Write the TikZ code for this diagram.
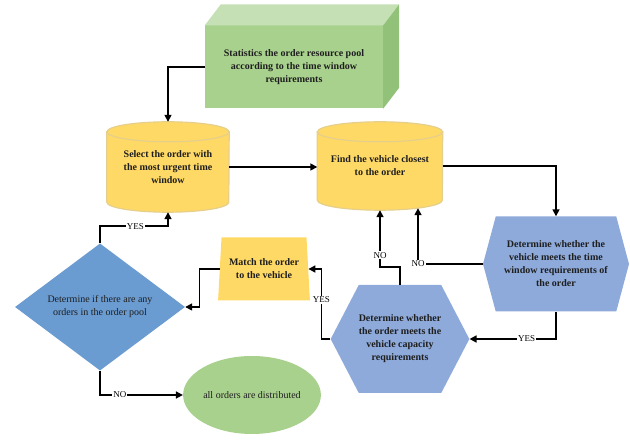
\documentclass[tikz,border=0pt]{standalone}
\usepackage{fontspec}
\setmainfont{Liberation Serif}
\usetikzlibrary{shapes.geometric,shapes.symbols,arrows.meta,backgrounds}

\definecolor{boxgreen}{HTML}{A9D18E}
\definecolor{topgreen}{HTML}{C5E0B4}
\definecolor{sidegreen}{HTML}{92C27A}
\definecolor{dbyellow}{HTML}{FFD966}
\definecolor{dbedge}{HTML}{E6CF8A}
\definecolor{hexblue}{HTML}{8EAADB}
\definecolor{diablue}{HTML}{6A9BD1}
\definecolor{inktxt}{HTML}{1E1E1E}

\tikzset{
  boldtxt/.style={font=\fontsize{10}{13}\selectfont\bfseries, align=center, text=inktxt},
  plaintxt/.style={font=\fontsize{10}{13}\selectfont, align=center, text=inktxt},
  cuboid/.style={boldtxt, fill=boxgreen, minimum width=178, minimum height=83, inner sep=0},
  database/.style={boldtxt, inner sep=0},
  dbdraw/.style={fill=dbyellow, draw=dbedge, line width=1.2pt},
  decide/.style={boldtxt, signal, signal to=west and east, fill=hexblue, inner sep=0},
  matchbox/.style={boldtxt, trapezium, trapezium stretches=true, trapezium left angle=82,
    trapezium right angle=82, fill=dbyellow, minimum width=92, minimum height=63, inner sep=0},
  query/.style={plaintxt, diamond, fill=diablue, minimum width=170, minimum height=110, inner sep=0},
  finish/.style={plaintxt, ellipse, fill=boxgreen, minimum width=137, minimum height=78, inner sep=0},
  flow/.style={->, line width=1.6pt},
  lbl/.style={font=\fontsize{9}{10}\selectfont, fill=white, inner sep=1pt}
}

\begin{document}
\begin{tikzpicture}[x=1pt,y=-1pt,>={Triangle[length=7pt,width=7pt]}]
  \useasboundingbox (0,0) rectangle (630,443);

  % order pool box
  \node[cuboid] (stat) at (294,67) {Statistics the order resource pool\\according to the time window\\requirements};
  \fill[topgreen] (stat.north west) -- ++(16,-21) -- ([shift={(16,-21)}]stat.north east) -- (stat.north east) -- cycle;
  \fill[sidegreen] (stat.north east) -- ++(16,-21) -- ([shift={(16,-21)}]stat.south east) -- (stat.south east) -- cycle;

  % cylinders: node is the body between the two end ellipses
  \node[database, minimum width=122, minimum height=70] (sel) at (168,167) {Select the order with\\the most urgent time\\window};
  \node[database, minimum width=125, minimum height=68] (find) at (380,166) {Find the vehicle closest\\to the order};
  \begin{scope}[on background layer]
    \filldraw[dbdraw] (sel.north west) -- (sel.south west) arc[start angle=180, end angle=0, x radius=61, y radius=10]
      -- (sel.north east) -- cycle;
    \filldraw[dbdraw] (sel.north) ellipse[x radius=61, y radius=10];
    \filldraw[dbdraw] (find.north west) -- (find.south west) arc[start angle=180, end angle=0, x radius=62.5, y radius=10]
      -- (find.north east) -- cycle;
    \filldraw[dbdraw] (find.north) ellipse[x radius=62.5, y radius=10];
  \end{scope}

  \node[decide, signal pointer angle=150, minimum width=146, minimum height=95] (timewin) at (556,264) {Determine whether the\\vehicle meets the time\\window requirements of\\the order};
  \node[decide, signal pointer angle=125, minimum width=135, minimum height=108] (capacity) at (400,339) {Determine whether\\the order meets the\\vehicle capacity\\requirements};
  \node[matchbox] (match) at (264,269) {Match the order\\to the vehicle};
  \node[query] (pool) at (100,307) {Determine if there are any\\orders in the order pool};
  \node[finish] (done) at (252,395) {all orders are distributed};

  \draw[flow] (stat.west) -| ([yshift=10pt]sel.north);
  \draw[flow] (sel.east) -- (sel.east -| find.west);
  \draw[flow] (find.east) -| (timewin.north);
  \draw[flow] (timewin.west) -| node[lbl] {NO} ([shift={(38pt,-8pt)}]find.south);
  \draw[flow] (timewin.south) |- node[lbl, pos=0.67] {YES} (capacity.east);
  \draw[flow] (capacity.north) -- ++(0,-18) -| node[lbl, pos=0.6] {NO} ([yshift=-10pt]find.south);
  \draw[flow] (capacity.west) -- ++(-9,0) |- node[lbl, pos=0.28] {YES} (match.east);
  \draw[flow] (match.west) -- ++(-20,0) |- (pool.east);
  \draw[flow] (pool.north) -- ++(0,-17) -| node[lbl, pos=0.26] {YES} ([yshift=-10pt]sel.south);
  \draw[flow] (pool.south) |- node[lbl, pos=0.62] {NO} (done);
\end{tikzpicture}
\end{document}
